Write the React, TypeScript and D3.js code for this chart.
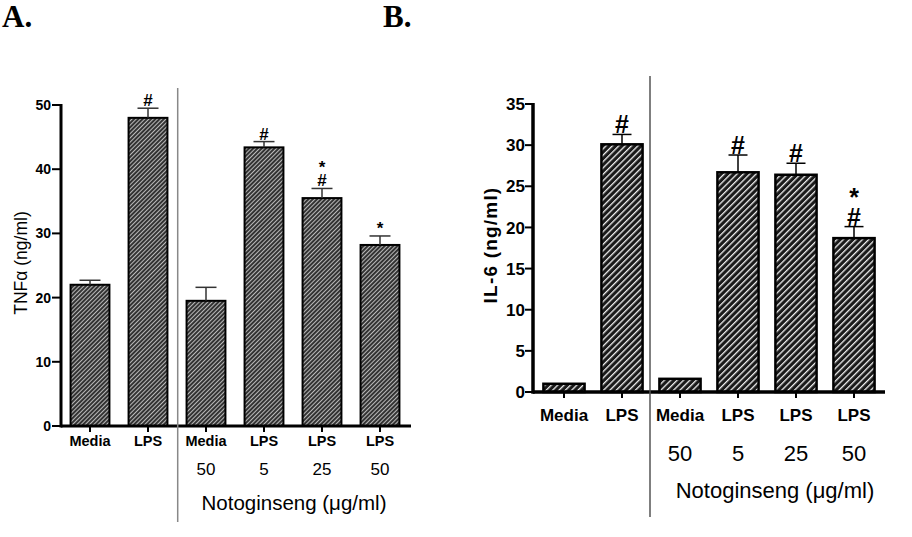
import React from "react";
import * as d3 from "d3";

const categories = ["Media", "LPS", "Media", "LPS", "LPS", "LPS"];
const doseLabels = ["", "", "50", "5", "25", "50"];
const tnfValues = [22.0, 48.0, 19.5, 43.4, 35.5, 28.2];
const tnfErrors = [0.7, 1.5, 2.1, 0.9, 1.5, 1.4];
const tnfMarks = [[], ["#"], [], ["#"], ["#", "*"], ["*"]];
const tnfTicks = [0, 10, 20, 30, 40, 50];
const il6Values = [1.0, 30.1, 1.6, 26.7, 26.4, 18.7];
const il6Errors = [0, 1.2, 0, 2.1, 1.4, 1.4];
const il6Marks = [[], ["#"], [], ["#"], ["#"], ["#", "*"]];
const il6Ticks = [0, 5, 10, 15, 20, 25, 30, 35];
const xTitle = "Notoginseng (\u03bcg/ml)";

const SANS = "'Liberation Sans', Arial, Helvetica, sans-serif";
const NARROW = "'Liberation Sans Narrow', 'Arial Narrow', 'Liberation Sans', Arial, sans-serif";
const SERIF = "'Liberation Serif', 'Times New Roman', serif";

type PanelCfg = {
  id: string;
  values: number[];
  errors: number[];
  marks: string[][];
  ticks: number[];
  yMax: number;
  x0: number;
  x1: number;
  axisX: number;
  yTop: number;
  yBottom: number;
  padding: number;
  tickFont: string;
  tickSize: number;
  tickWeight: string;
  tickLabelX: number;
  tickLen: number;
  catSize: number;
  catY: number;
  doseSize: number;
  doseY: number;
  titleSize: number;
  titleY: number;
  titleX: number;
  yLabel: string;
  yLabelX: number;
  yLabelY: number;
  yLabelSize: number;
  yLabelWeight: string;
  yLabelSpacing: number;
  markSize: number;
  markGap: number;
  markStep: number;
  capHalf: number;
  errColor: string;
  divX: number;
  divY0: number;
  divY1: number;
  divColor: string;
  axisW: number;
  barStroke: number;
};

function Panel({ c }: { c: PanelCfg }) {
  const x = d3
    .scaleBand<number>()
    .domain(d3.range(categories.length))
    .range([c.x0, c.x1])
    .paddingInner(c.padding)
    .paddingOuter(c.padding / 2);
  const y = d3.scaleLinear().domain([0, c.yMax]).range([c.yBottom, c.yTop]);
  const bw = x.bandwidth();
  return (
    <g>
      {c.values.map((v, i) => (
        <rect
          key={"b" + i}
          x={x(i)!}
          y={y(v)}
          width={bw}
          height={y(0) - y(v)}
          fill={`url(#hatch-${c.id})`}
          stroke="#000"
          strokeWidth={c.barStroke}
        />
      ))}
      {c.values.map((v, i) => {
        const e = c.errors[i];
        if (!e) return null;
        const cx = x(i)! + bw / 2;
        return (
          <g key={"e" + i} stroke={c.errColor} strokeWidth={1.5}>
            <line x1={cx} x2={cx} y1={y(v)} y2={y(v + e)} />
            <line x1={cx - c.capHalf} x2={cx + c.capHalf} y1={y(v + e)} y2={y(v + e)} />
          </g>
        );
      })}
      {c.values.map((v, i) => {
        const marks = c.marks[i];
        if (!marks.length) return null;
        const cx = x(i)! + bw / 2;
        const base = y(v + c.errors[i]) - c.markGap;
        const top = base - (marks.length - 1) * c.markStep;
        const ordered = [...marks].reverse();
        return (
          <text
            key={"m" + i}
            x={cx}
            y={top}
            textAnchor="middle"
            fontFamily={SANS}
            fontWeight="bold"
            fontSize={c.markSize}
            fill="#000"
          >
            {ordered.map((m, k) => (
              <tspan key={k} x={cx} dy={k === 0 ? 0 : c.markStep}>
                {m}
              </tspan>
            ))}
          </text>
        );
      })}
      <line x1={c.axisX} x2={c.axisX} y1={y(c.yMax) - 1} y2={y(0) + c.axisW / 2} stroke="#000" strokeWidth={c.axisW} />
      {c.ticks.map((t) => (
        <g key={"t" + t}>
          <line x1={c.axisX - c.tickLen} x2={c.axisX} y1={y(t)} y2={y(t)} stroke="#000" strokeWidth={2} />
          <text
            x={c.tickLabelX}
            y={y(t)}
            dy="0.36em"
            textAnchor="end"
            fontFamily={c.tickFont}
            fontSize={c.tickSize}
            fontWeight={c.tickWeight}
            fill="#000"
          >
            {t}
          </text>
        </g>
      ))}
      <line x1={c.axisX} x2={c.x1 + 2} y1={y(0)} y2={y(0)} stroke="#000" strokeWidth={c.axisW} />
      {categories.map((cat, i) => {
        const cx = x(i)! + bw / 2;
        return (
          <g key={"c" + i}>
            <line x1={cx} x2={cx} y1={y(0)} y2={y(0) + 6} stroke="#000" strokeWidth={2} />
            <text x={cx} y={c.catY} textAnchor="middle" fontFamily={SANS} fontWeight="bold" fontSize={c.catSize} fill="#000">
              {cat}
            </text>
            {doseLabels[i] && (
              <text x={cx} y={c.doseY} textAnchor="middle" fontFamily={SANS} fontSize={c.doseSize} fill="#000">
                {doseLabels[i]}
              </text>
            )}
          </g>
        );
      })}
      <text x={c.titleX} y={c.titleY} textAnchor="middle" fontFamily={SANS} fontSize={c.titleSize} fill="#000">
        {xTitle}
      </text>
      <text
        transform={`translate(${c.yLabelX},${c.yLabelY}) rotate(-90)`}
        textAnchor="middle"
        fontFamily={SANS}
        fontSize={c.yLabelSize}
        fontWeight={c.yLabelWeight}
        letterSpacing={c.yLabelSpacing}
        fill="#000"
      >
        {c.yLabel}
      </text>
      <line x1={c.divX} x2={c.divX} y1={c.divY0} y2={c.divY1} stroke={c.divColor} strokeWidth={1.5} />
    </g>
  );
}

const panelA: PanelCfg = {
  id: "a",
  values: tnfValues,
  errors: tnfErrors,
  marks: tnfMarks,
  ticks: tnfTicks,
  yMax: 50,
  x0: 61,
  x1: 409,
  axisX: 61,
  yTop: 105,
  yBottom: 426,
  padding: 0.33,
  tickFont: SANS,
  tickSize: 14,
  tickWeight: "bold",
  tickLabelX: 51,
  tickLen: 9,
  catSize: 14.5,
  catY: 446,
  doseSize: 17,
  doseY: 475,
  titleSize: 20.5,
  titleY: 510,
  titleX: 294,
  yLabel: "TNF\u03b1 (ng/ml)",
  yLabelX: 27,
  yLabelY: 263,
  yLabelSize: 17.5,
  yLabelWeight: "normal",
  yLabelSpacing: 0,
  markSize: 17,
  markGap: 2,
  markStep: 13.5,
  capHalf: 10.5,
  errColor: "#333",
  divX: 177.7,
  divY0: 88,
  divY1: 522,
  divColor: "#888",
  axisW: 3,
  barStroke: 2,
};

const panelB: PanelCfg = {
  id: "b",
  values: il6Values,
  errors: il6Errors,
  marks: il6Marks,
  ticks: il6Ticks,
  yMax: 35,
  x0: 535,
  x1: 883,
  axisX: 533,
  yTop: 104,
  yBottom: 392,
  padding: 0.29,
  tickFont: NARROW,
  tickSize: 17,
  tickWeight: "bold",
  tickLabelX: 525,
  tickLen: 8,
  catSize: 17,
  catY: 421,
  doseSize: 22,
  doseY: 461,
  titleSize: 22,
  titleY: 498,
  titleX: 775,
  yLabel: "IL-6 (ng/ml)",
  yLabelX: 497,
  yLabelY: 245,
  yLabelSize: 19,
  yLabelWeight: "bold",
  yLabelSpacing: 1.2,
  markSize: 25,
  markGap: 1,
  markStep: 20,
  capHalf: 9.5,
  errColor: "#000",
  divX: 650,
  divY0: 76,
  divY1: 517,
  divColor: "#555",
  axisW: 3.5,
  barStroke: 2.5,
};

export default function App() {
  return (
    <svg
      width={912}
      height={537}
      viewBox="0 0 912 537"
      style={{ position: "absolute", left: 0, top: 0, background: "#fff" }}
    >
      <defs>
        <pattern id="hatch-a" patternUnits="userSpaceOnUse" width={3} height={3} patternTransform="rotate(45)">
          <rect width={3} height={3} fill="#333" />
          <rect x={0} y={0} width={0.9} height={3} fill="#c8c8c8" />
        </pattern>
        <pattern id="hatch-b" patternUnits="userSpaceOnUse" width={4.5} height={4.5} patternTransform="rotate(45)">
          <rect width={4.5} height={4.5} fill="#1a1a1a" />
          <rect x={0} y={0} width={1.3} height={4.5} fill="#f0f0f0" />
        </pattern>
      </defs>
      <rect width={912} height={537} fill="#fff" />
      <text x={2} y={27} fontFamily={SERIF} fontWeight="bold" fontSize={31} fill="#000">
        A.
      </text>
      <text x={383} y={27} fontFamily={SERIF} fontWeight="bold" fontSize={31} fill="#000">
        B.
      </text>
      <Panel c={panelA} />
      <Panel c={panelB} />
    </svg>
  );
}
